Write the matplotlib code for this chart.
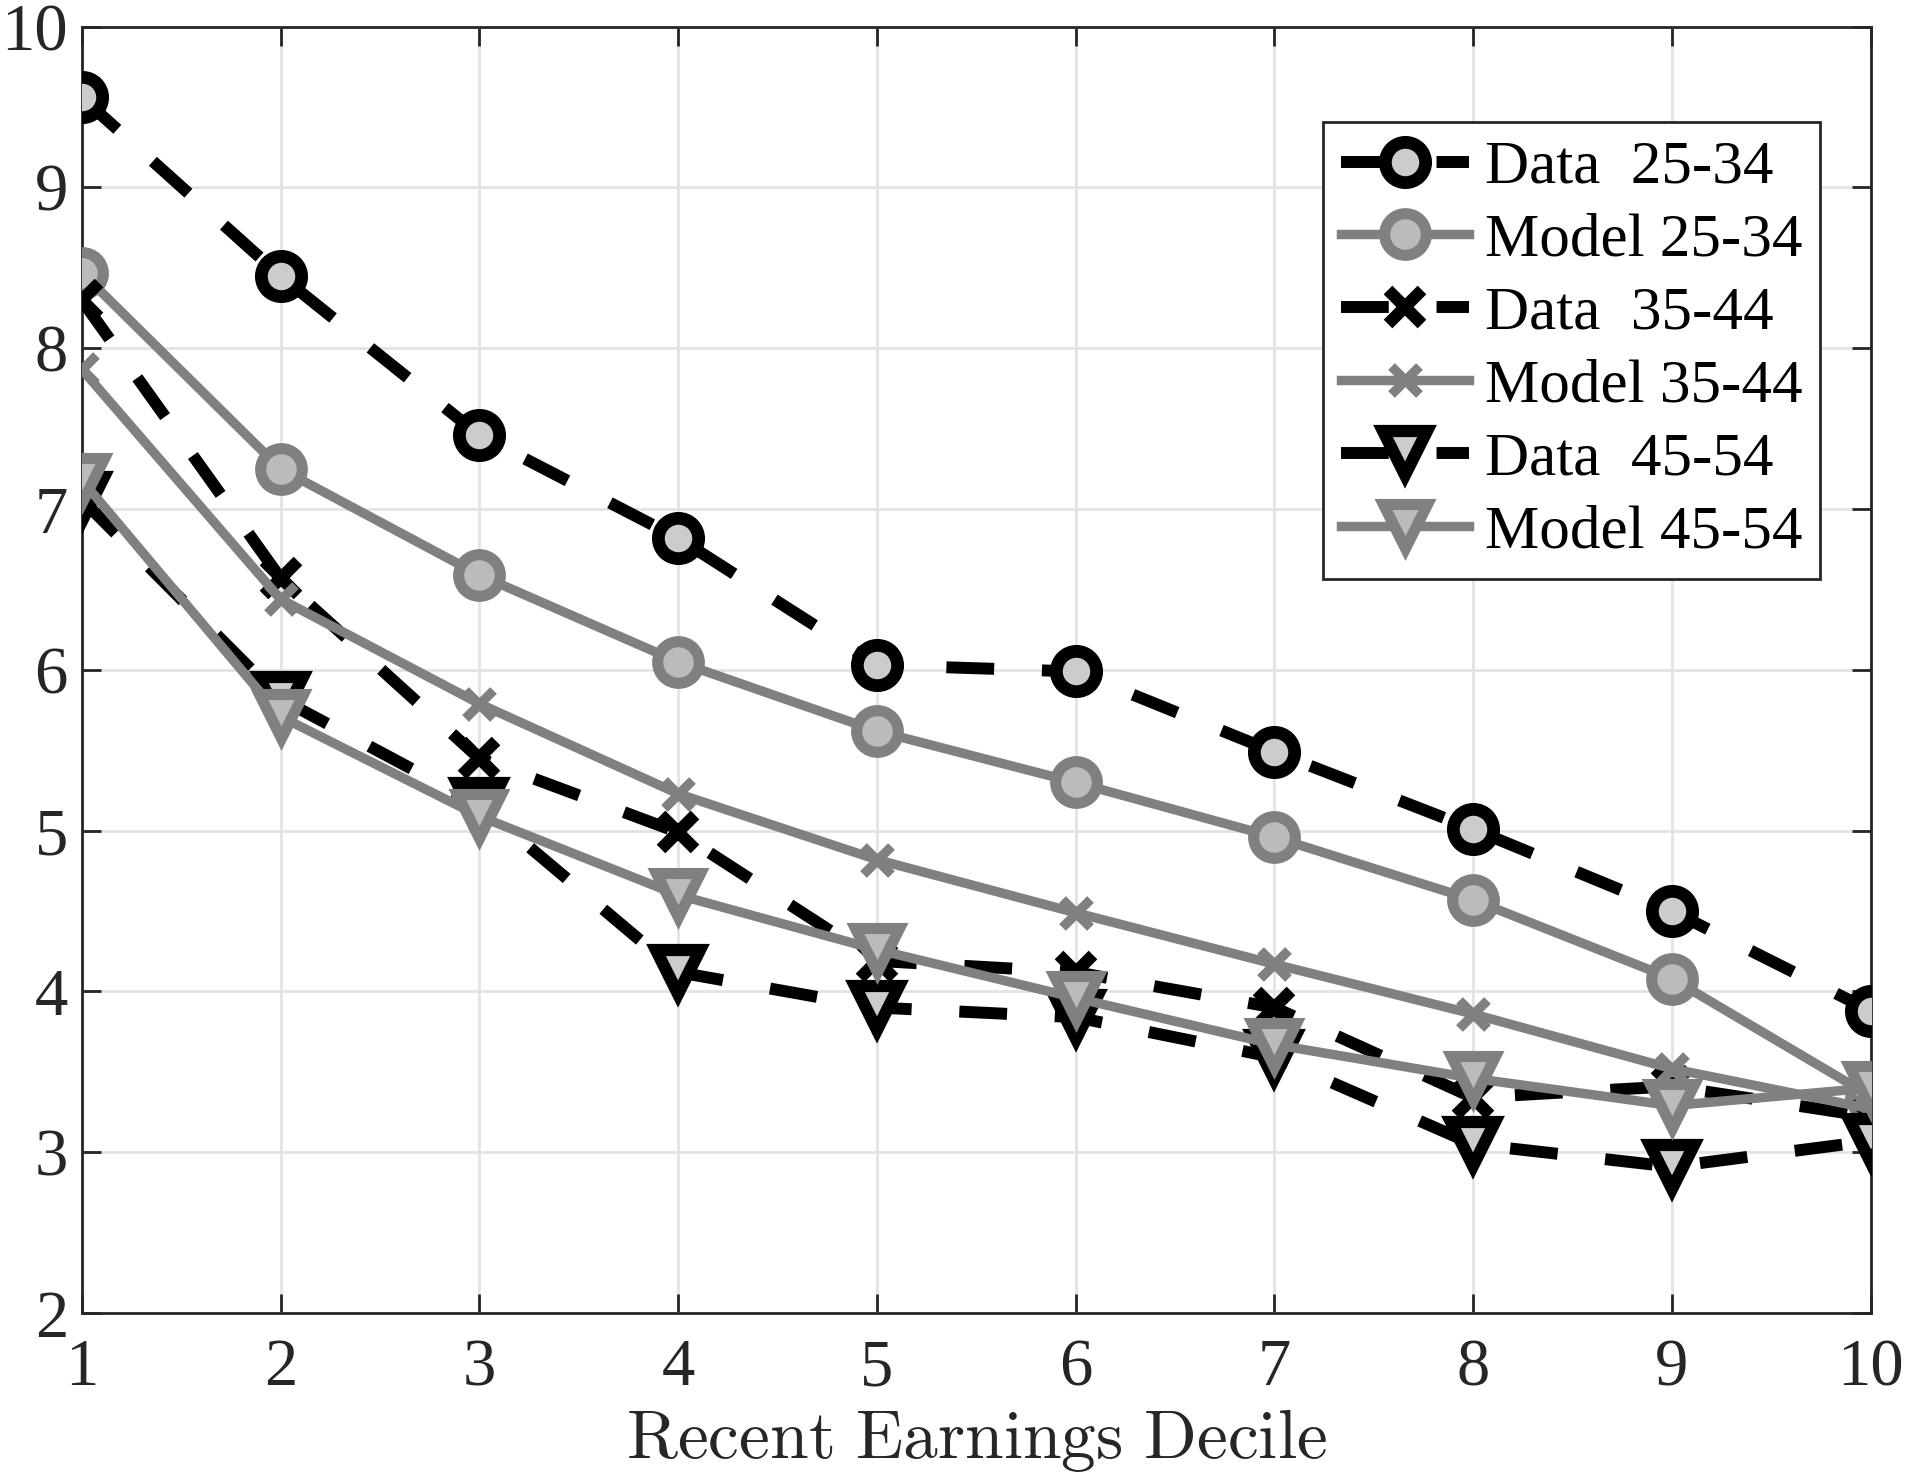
import matplotlib
matplotlib.use("Agg")
import matplotlib.pyplot as plt

plt.rcParams["font.family"] = ["Liberation Serif", "DejaVu Serif"]
plt.rcParams["mathtext.fontset"] = "cm"

deciles = [1, 2, 3, 4, 5, 6, 7, 8, 9, 10]

data_25_34 = [9.56, 8.45, 7.46, 6.82, 6.03, 5.99, 5.49, 5.01, 4.50, 3.88]
model_25_34 = [8.47, 7.25, 6.59, 6.05, 5.62, 5.30, 4.96, 4.57, 4.08, 3.35]
data_35_44 = [8.30, 6.57, 5.45, 4.99, 4.19, 4.12, 3.90, 3.34, 3.41, 3.22]
model_35_44 = [7.87, 6.44, 5.79, 5.23, 4.82, 4.49, 4.17, 3.86, 3.52, 3.27]
data_45_54 = [7.06, 5.82, 5.16, 4.12, 3.90, 3.84, 3.59, 3.05, 2.91, 3.07]
model_45_54 = [7.18, 5.71, 5.09, 4.60, 4.26, 3.96, 3.67, 3.46, 3.29, 3.40]

labels = ["Data  25-34", "Model 25-34", "Data  35-44",
          "Model 35-44", "Data  45-54", "Model 45-54"]

BLACK = "#000000"
GRAY = "#808080"
FACE_DATA = "#cccccc"
FACE_MODEL = "#bbbbbb"

fig = plt.figure(figsize=(9.53, 7.41), dpi=200)
ax = fig.add_axes([0.0429, 0.1140, 0.9385, 0.8680])

data_kw = dict(color=BLACK, lw=4.3, dashes=(4.0, 4.0), zorder=3,
               solid_joinstyle="round", dash_joinstyle="miter")
model_kw = dict(color=GRAY, lw=3.4, zorder=3)

ax.plot(deciles, data_25_34, marker="o", ms=14.5, mew=4.6, mfc=FACE_DATA,
        mec=BLACK, label=labels[0], **data_kw)
ax.plot(deciles, model_25_34, marker="o", ms=15, mew=4.0, mfc=FACE_MODEL,
        mec=GRAY, label=labels[1], **model_kw)
ax.plot(deciles, data_35_44, marker="x", ms=12, mew=4.4, mec=BLACK,
        label=labels[2], **data_kw)
ax.plot(deciles, model_35_44, marker="x", ms=10, mew=3.4, mec=GRAY,
        label=labels[3], **model_kw)
ax.plot(deciles, data_45_54, marker="v", ms=16, mew=4.4, mfc=FACE_DATA,
        mec=BLACK, label=labels[4], **data_kw)
ax.plot(deciles, model_45_54, marker="v", ms=16, mew=4.0, mfc=FACE_MODEL,
        mec=GRAY, label=labels[5], **model_kw)

ax.set_xlim(1, 10)
ax.set_ylim(2, 10)
ax.set_xticks(deciles)
ax.set_yticks(range(2, 11))
ax.grid(True, color="#e3e3e3", lw=1.0, zorder=0)
ax.set_axisbelow(True)
for s in ax.spines.values():
    s.set_color("#262626")
    s.set_linewidth(1.0)
ax.tick_params(direction="in", top=True, right=True, length=7, width=1.0,
               color="#262626", labelcolor="#262626", labelsize=24)
ax.tick_params(axis="y", pad=5)
ax.tick_params(axis="x", pad=9)

ax.set_xlabel(r"$\mathrm{Recent\ Earnings\ Decile}$", fontsize=25,
              color="#262626", labelpad=3)

leg = ax.legend(loc="upper right", bbox_to_anchor=(0.972, 0.926),
                borderaxespad=0, fontsize=22, handlelength=2.1,
                handletextpad=0.25, labelspacing=0.28, borderpad=0.3,
                fancybox=False, framealpha=1, edgecolor="#262626")
leg.get_frame().set_linewidth(1.0)

fig.savefig("out.png", dpi=200)
